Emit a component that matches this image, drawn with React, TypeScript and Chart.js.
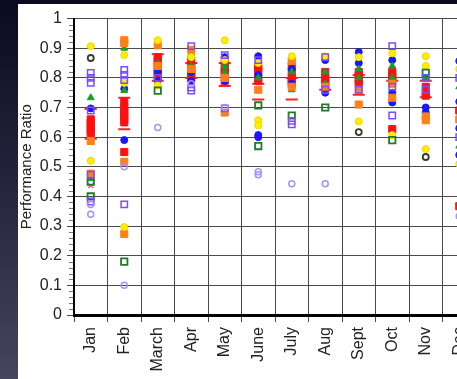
import React, { useEffect, useRef } from 'react';
import { Chart, registerables } from 'chart.js';

Chart.register(...registerables);

const months = ['Jan', 'Feb', 'March', 'Apr', 'May', 'June', 'July', 'Aug', 'Sept', 'Oct', 'Nov', 'Dec'];

// values per month (one inner list per month)
const lavenderOpen: number[][] = [
  [0.34, 0.373], [0.5, 0.1], [0.633], [0.78], [0.7], [0.483, 0.473], [0.443], [0.443], [], [], [], [0.333],
];
const purpleOpen: number[][] = [
  [0.817, 0.8, 0.783, 0.69, 0.473, 0.383], [0.827, 0.81, 0.793, 0.373], [0.8], [0.907, 0.767, 0.757],
  [0.877, 0.697], [0.86], [0.643, 0.655], [0.87, 0.76], [0.76], [0.907, 0.673, 0.77], [0.8, 0.76], [0.8, 0.6],
];
const darkGreenOpen: number[][] = [
  [0.45, 0.4], [0.18], [0.757], [], [], [0.707, 0.57], [0.673], [0.7], [], [0.59], [0.817], [],
];
const blackOpen: number[][] = [
  [0.867], [], [], [], [], [], [], [], [0.617], [], [0.533], [],
];
const yellowPts: number[][] = [
  [0.907, 0.52], [0.877, 0.783, 0.297], [0.927, 0.775], [0.87], [0.927, 0.86], [0.85, 0.657, 0.64],
  [0.873], [0.873], [0.87, 0.653], [0.883, 0.607], [0.873, 0.84, 0.56], [0.83, 0.51],
];
const orangeSq: number[][] = [
  [0.587, 0.477], [0.927, 0.917, 0.517, 0.273], [0.91, 0.84], [0.895, 0.83], [0.683, 0.8], [0.76],
  [0.857, 0.77], [0.77], [0.71, 0.76], [0.733, 0.78], [0.657, 0.67], [0.66],
];
const greenTri: number[][] = [
  [0.733, 0.46], [0.9, 0.757], [0.907, 0.85], [0.883, 0.84], [0.84, 0.82], [0.8],
  [0.82, 0.76], [0.82, 0.78], [0.83, 0.8], [0.84, 0.8], [0.8], [0.77, 0.57],
];
const blueCirc: number[][] = [
  [0.697], [0.763, 0.59], [0.79, 0.82], [0.79, 0.82], [0.87, 0.79], [0.873, 0.81, 0.607, 0.6],
  [0.78, 0.83], [0.86, 0.75], [0.887, 0.85], [0.86, 0.717, 0.75], [0.7, 0.683], [0.857, 0.72, 0.63, 0.54],
];
const redSq: number[][] = [
  [0.66, 0.65, 0.64, 0.63, 0.62, 0.61], [0.72, 0.7, 0.69, 0.68, 0.67, 0.66, 0.65, 0.55],
  [0.87, 0.86, 0.85, 0.84, 0.83, 0.82, 0.81, 0.8], [0.86, 0.84, 0.83, 0.82, 0.81, 0.8],
  [0.86, 0.84, 0.83, 0.82, 0.81, 0.79], [0.84, 0.83, 0.82, 0.8, 0.79], [0.84, 0.82, 0.8, 0.79, 0.78],
  [0.82, 0.8, 0.79, 0.78, 0.77], [0.82, 0.81, 0.8, 0.79, 0.78], [0.82, 0.81, 0.8, 0.79, 0.627],
  [0.77, 0.75, 0.74], [0.69, 0.367],
];
const redBar: number[][] = [
  [0.695, 0.595], [0.733, 0.627], [0.88, 0.79], [0.85, 0.8], [0.85, 0.773], [0.78, 0.727],
  [0.8, 0.727], [0.76], [0.81, 0.743], [0.79], [0.79, 0.735], [],
];
const pinkX: number[][] = [
  [0.437], [], [], [], [], [], [], [], [], [], [], [],
];

function pts(vals: number[][]) {
  const out: { x: string; y: number }[] = [];
  vals.forEach((arr, i) => arr.forEach((y) => out.push({ x: months[i], y })));
  return out;
}

const minorTicks = {
  id: 'minorTicks',
  afterDraw(chart: any) {
    const ys = chart.scales.y;
    const ctx = chart.ctx;
    const left = chart.chartArea.left;
    ctx.save();
    ctx.strokeStyle = '#777';
    ctx.lineWidth = 1;
    for (let i = 0; i <= 50; i++) {
      if (i % 5 === 0) continue;
      const py = Math.round(ys.getPixelForValue(i / 50)) + 0.5;
      ctx.beginPath();
      ctx.moveTo(left - 5, py);
      ctx.lineTo(left - 1, py);
      ctx.stroke();
    }
    ctx.restore();
  },
};

export default function App() {
  const ref = useRef<HTMLCanvasElement | null>(null);
  useEffect(() => {
    if (!ref.current) return;
    const none = 'rgba(0,0,0,0)';
    const chart = new Chart(ref.current, {
      type: 'scatter',
      data: {
        labels: months,
        datasets: [
          { data: pts(lavenderOpen), pointStyle: 'circle', pointRadius: 3, backgroundColor: none, borderColor: '#a890ff', pointBorderWidth: 1.5 },
          { data: pts(purpleOpen), pointStyle: 'rect', pointRadius: 4.5, backgroundColor: none, borderColor: '#7b4dff', pointBorderWidth: 1.5 },
          { data: pts(darkGreenOpen), pointStyle: 'rect', pointRadius: 4.5, backgroundColor: none, borderColor: '#1f7a2a', pointBorderWidth: 1.8 },
          { data: pts(blackOpen), pointStyle: 'circle', pointRadius: 3, backgroundColor: none, borderColor: '#3a3a2a', pointBorderWidth: 1.8 },
          { data: pts(yellowPts), pointStyle: 'circle', pointRadius: 3.5, backgroundColor: '#ffee00', borderColor: '#f2d600', pointBorderWidth: 1 },
          { data: pts(orangeSq), pointStyle: 'rect', pointRadius: 5, backgroundColor: '#ff7f1a', borderColor: '#ff7f1a', pointBorderWidth: 1 },
          { data: pts(greenTri), pointStyle: 'triangle', pointRadius: 4, backgroundColor: '#16a02a', borderColor: '#16a02a', pointBorderWidth: 1 },
          { data: pts(blueCirc), pointStyle: 'circle', pointRadius: 3.5, backgroundColor: '#1818ff', borderColor: '#1818ff', pointBorderWidth: 1 },
          { data: pts(redSq), pointStyle: 'rect', pointRadius: 5, backgroundColor: '#ff1010', borderColor: '#ff1010', pointBorderWidth: 1 },
          { data: pts(redBar), pointStyle: 'line', pointRadius: 6, backgroundColor: '#ff2020', borderColor: '#ff2020', pointBorderWidth: 2 },
          { data: pts(pinkX), pointStyle: 'crossRot', pointRadius: 3.5, backgroundColor: '#ff5aa0', borderColor: '#ff5aa0', pointBorderWidth: 1.5 },
        ] as any,
      },
      options: {
        animation: false,
        responsive: false,
        events: [],
        layout: { padding: { left: 0, top: 11, right: 12, bottom: 0 } },
        plugins: { legend: { display: false }, tooltip: { enabled: false } },
        scales: {
          x: {
            type: 'category',
            offset: true,
            grid: { offset: true, color: '#4a4a4a', lineWidth: 1, tickLength: 7, tickColor: '#4a4a4a' },
            border: { color: '#000', width: 3 },
            ticks: {
              autoSkip: false,
              minRotation: 90,
              maxRotation: 90,
              padding: 5,
              color: '#222',
              font: { family: 'Liberation Sans, Arial, sans-serif', size: 16 },
            },
            afterFit: (s: any) => { s.height = 64; },
          },
          y: {
            min: 0,
            max: 1,
            grid: { color: '#4a4a4a', lineWidth: 1, tickLength: 7, tickColor: '#4a4a4a' },
            border: { color: '#000', width: 2 },
            ticks: {
              stepSize: 0.1,
              padding: 5,
              color: '#222',
              font: { family: 'Liberation Sans, Arial, sans-serif', size: 16 },
              callback: (v: any) => String(Math.round(Number(v) * 10) / 10),
            },
            title: {
              display: true,
              text: 'Performance Ratio',
              color: '#222',
              padding: 0,
              font: { family: 'Liberation Sans, Arial, sans-serif', size: 15 },
            },
            afterFit: (s: any) => { s.width = 56; },
          },
        },
      } as any,
      plugins: [minorTicks],
    });
    return () => chart.destroy();
  }, []);

  return (
    <div style={{ position: 'fixed', inset: 0, background: 'linear-gradient(to bottom, #0b0b1f 0%, #22223a 45%, #45455f 100%)', overflow: 'hidden' }}>
      <div style={{ position: 'absolute', left: 18, top: 4, right: 0, bottom: 0, background: '#fff', overflow: 'hidden' }}>
        <canvas ref={ref} width={470} height={375} style={{ display: 'block' }} />
      </div>
    </div>
  );
}
